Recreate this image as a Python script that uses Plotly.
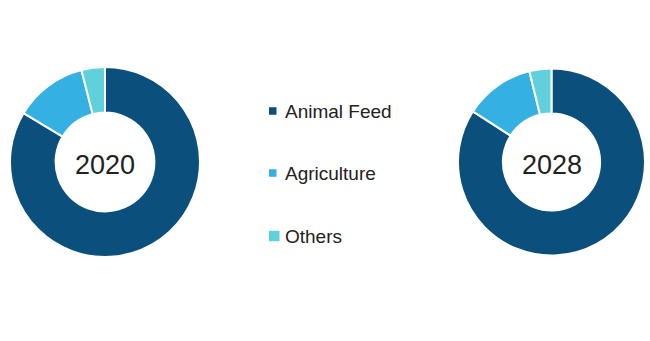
import plotly.graph_objects as go

labels = ["Animal Feed", "Agriculture", "Others"]
share_2020 = [83.6, 12.4, 4.0]
share_2028 = [84.1, 12.1, 3.8]
years = ["2020", "2028"]
colors = ["#0b507d", "#35b0e3", "#5fd0dc"]

W, H = 650, 341

def dom(cx, cy, r):
    return dict(x=[(cx - r) / W, (cx + r) / W], y=[(H - cy - r) / H, (H - cy + r) / H])

centers = [(105, 162, 95), (551.5, 162, 93.5)]

fig = go.Figure()
for vals, (cx, cy, r) in zip([share_2020, share_2028], centers):
    fig.add_trace(go.Pie(
        labels=labels, values=vals, hole=0.52, sort=False, direction="clockwise",
        rotation=0, textinfo="none", showlegend=False,
        marker=dict(colors=colors, line=dict(color="white", width=2)),
        domain=dom(cx, cy, r),
    ))

annotations = []
for yr, (cx, cy, r) in zip(years, centers):
    annotations.append(dict(x=cx / W, y=(H - cy - 3) / H, xref="paper", yref="paper",
                            text=yr, showarrow=False, xanchor="center", yanchor="middle",
                            font=dict(family="Liberation Sans, Arial", size=27, color="#222222")))

shapes = []
leg_y = [111, 173, 236]
sq = [7.5, 7.5, 10.5]
for lab, col, ly, s in zip(labels, colors, leg_y, sq):
    x0 = 269
    shapes.append(dict(type="rect", xref="paper", yref="paper",
                       x0=x0 / W, x1=(x0 + s) / W,
                       y0=(H - ly - s / 2) / H, y1=(H - ly + s / 2) / H,
                       fillcolor=col, line=dict(width=0)))
    annotations.append(dict(x=283 / W, y=(H - ly) / H, xref="paper", yref="paper",
                            text=lab, showarrow=False, xanchor="left", yanchor="middle",
                            font=dict(family="Liberation Sans, Arial", size=19, color="#222222")))

fig.update_layout(width=W, height=H, margin=dict(l=0, r=0, t=0, b=0),
                  paper_bgcolor="white", plot_bgcolor="white",
                  annotations=annotations, shapes=shapes)
fig.write_html("out.html")
